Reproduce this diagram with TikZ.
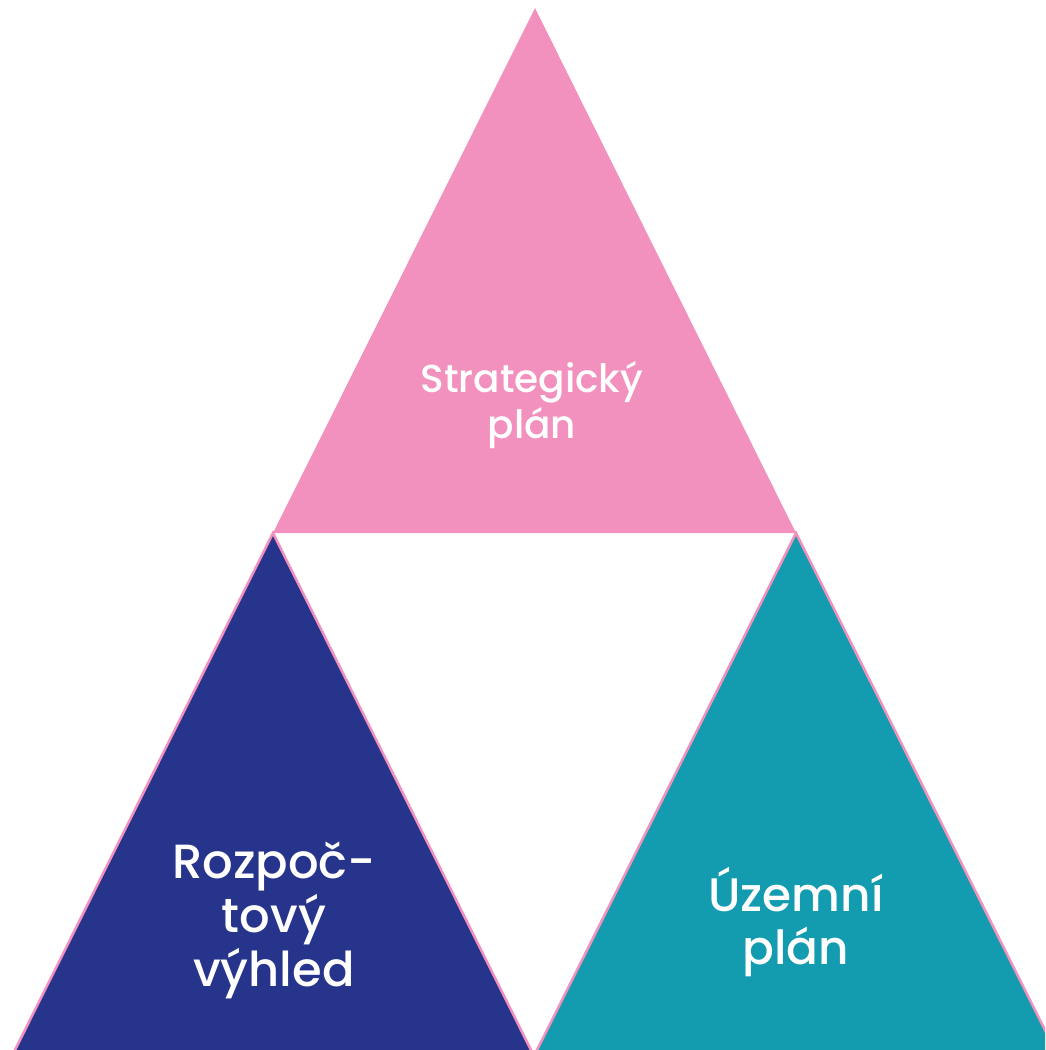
\documentclass[tikz,border=0pt]{standalone}
\usepackage{fontspec}
\setmainfont{Poppins}[UprightFont=* Medium]
\definecolor{tpink}{RGB}{242,145,189}
\definecolor{tnavy}{RGB}{39,52,139}
\definecolor{tteal}{RGB}{19,155,176}
\begin{document}
\begin{tikzpicture}[x=1pt,y=-1pt,
  lbl/.style={text=white,align=center,inner sep=0pt},
  edge/.style={draw=tpink,line width=2.5pt,line join=miter}]
\useasboundingbox (0,0) rectangle (1045,1050);
\clip (0,0) rectangle (1045,1050);
% top pink
\coordinate (pA) at (535,8);
\coordinate (pL) at (273,533);
\coordinate (pR) at (796,533);
\fill[tpink] (pA) -- (pL) -- (pR) -- cycle;
% bottom left navy
\coordinate (nA) at (273,533);
\coordinate (nL) at (14,1052);
\coordinate (nR) at (532,1052);
\filldraw[fill=tnavy,edge] (nA) -- (nL) -- (nR) -- cycle;
% bottom right teal
\coordinate (tA) at (796,533);
\coordinate (tL) at (536,1052);
\coordinate (tR) at (1056,1052);
\filldraw[fill=tteal,edge] (tA) -- (tL) -- (tR) -- cycle;
% labels
\node[lbl,font=\fontsize{39}{46}\selectfont] (s) at (532,405) {Strategický\\plán};
\node[lbl,font=\fontsize{48}{54}\selectfont] (r) at (274,920) {Rozpoč-\\tový\\výhled};
\node[lbl,font=\fontsize{47}{53}\selectfont] (u) at (796,922) {Územní\\plán};
\end{tikzpicture}
\end{document}
